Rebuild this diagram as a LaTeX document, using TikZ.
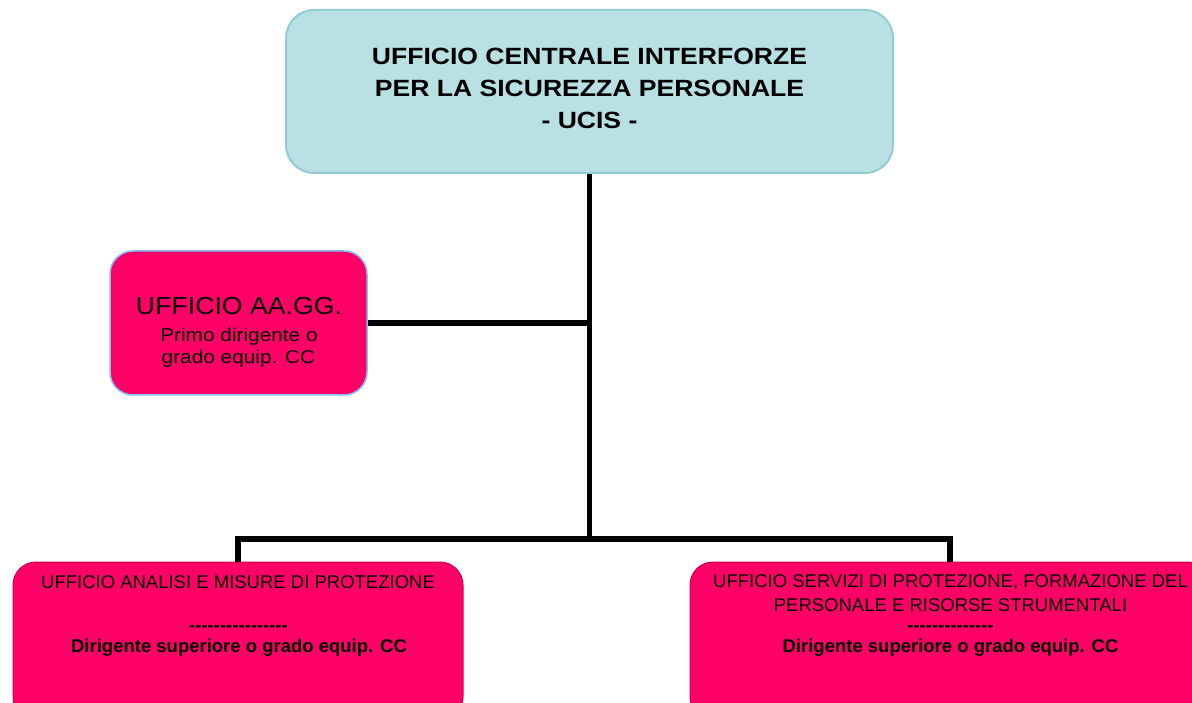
\documentclass[tikz,border=0pt]{standalone}
\usepackage{fontspec}
\usepackage{graphicx}
\setmainfont{Liberation Sans}
\definecolor{tealfill}{HTML}{B9E0E3}
\definecolor{tealline}{HTML}{92CDD3}
\definecolor{pinkfill}{HTML}{FF0066}
\definecolor{pinkline}{HTML}{CC0055}
\definecolor{blueline}{HTML}{80BFFF}
\newcommand{\hsc}[2]{\scalebox{#1}[1]{#2}}
\newcommand{\fs}[1]{\fontsize{#1}{#1}\selectfont}
\newcommand{\hy}{-{}}
\tikzset{
  topbox/.style={draw=tealline, line width=2pt, fill=tealfill, rounded corners=28pt, inner sep=0pt},
  sidebox/.style={draw=blueline, line width=1.5pt, fill=pinkfill, rounded corners=23pt, inner sep=0pt},
  lowbox/.style={draw=pinkline, line width=1pt, fill=pinkfill, rounded corners=23pt, inner sep=0pt},
  txt/.style={anchor=base, inner sep=0pt, text=black},
  conn/.style={draw=black, line width=5.6pt, line join=miter},
}
\begin{document}
\begin{tikzpicture}[x=1pt, y=-1pt]
\useasboundingbox (0,0) rectangle (1192,703);
\clip (0,0) rectangle (1192,703);
\fill[white] (0,0) rectangle (1192,703);

% boxes
\node[topbox, minimum width=607pt, minimum height=163pt] (top) at (589.5,91.5) {};
\node[sidebox, minimum width=257pt, minimum height=144pt] (aagg) at (238.5,323) {};
\node[lowbox, minimum width=450pt, minimum height=158pt] (bl) at (238,641) {};
\node[lowbox, minimum width=520pt, minimum height=158pt] (br) at (950,641) {};

% connectors
\coordinate (j1) at (589.5,539);
\draw[conn] (top.south) -- (j1);
\draw[conn] (aagg.east) -- (aagg.east -| top.south);
\draw[conn] (bl.north) -- (bl.north |- j1) -- (br.north |- j1) -- (br.north);

% top text
\node[txt] (t1) at (589.5,65) {\fs{23.5}\bfseries\hsc{1.13}{UFFICIO CENTRALE INTERFORZE}};
\node[txt] (t2) at (589.5,96.7) {\fs{23.5}\bfseries\hsc{1.13}{PER LA SICUREZZA PERSONALE}};
\node[txt] (t3) at (589.5,128.3) {\fs{23.5}\bfseries\hsc{1.13}{- UCIS -}};

% side text
\node[txt] (a1) at (239,315) {\fs{24.7}\hsc{1.08}{UFFICIO AA.GG.}};
\node[txt] (a2) at (239,341.5) {\fs{18.6}\hsc{1.12}{Primo dirigente o}};
\node[txt] (a3) at (238.5,363.5) {\fs{18.6}\hsc{1.12}{grado equip. CC}};

% bottom-left text
\node[txt] (l1) at (238,588) {\fs{18.5}UFFICIO ANALISI E MISURE DI PROTEZIONE};
\node[txt] (l2) at (238.5,631) {\fs{18.5}\bfseries \hy\hy\hy\hy\hy\hy\hy\hy\hy\hy\hy\hy\hy\hy\hy\hy};
\node[txt] (l3) at (239,652) {\fs{18.5}\bfseries Dirigente superiore o grado equip. CC};

% bottom-right text
\node[txt] (r1) at (950.5,587) {\fs{18.5}UFFICIO SERVIZI DI PROTEZIONE, FORMAZIONE DEL};
\node[txt] (r2) at (950.5,611) {\fs{18.5}PERSONALE E RISORSE STRUMENTALI};
\node[txt] (r3) at (950.5,631) {\fs{18.5}\bfseries \hy\hy\hy\hy\hy\hy\hy\hy\hy\hy\hy\hy\hy\hy};
\node[txt] (r4) at (950.5,652) {\fs{18.5}\bfseries Dirigente superiore o grado equip. CC};
\end{tikzpicture}
\end{document}
